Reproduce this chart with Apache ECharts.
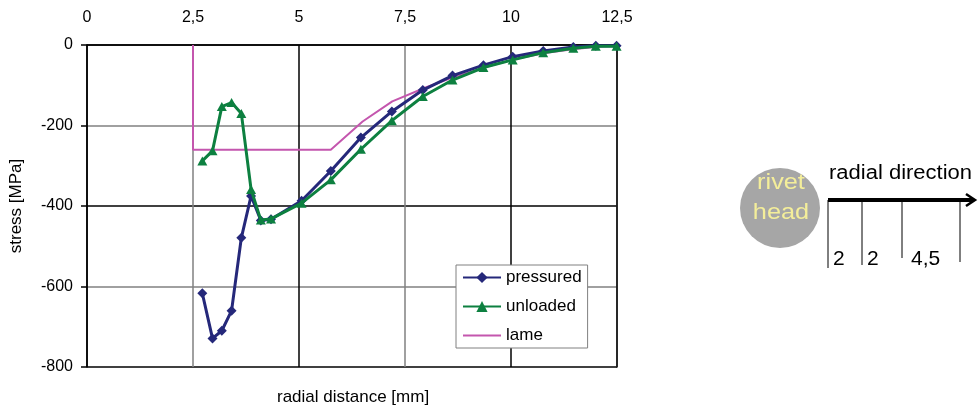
<!DOCTYPE html>
<html>
<head>
<meta charset="utf-8">
<script src="https://cdn.jsdelivr.net/npm/echarts@6/dist/echarts.min.js"></script>
<style>
  html, body { margin: 0; padding: 0; background: #fff; }
  #main { width: 979px; height: 414px; }
</style>
</head>
<body>
<div id="main"></div>
<script>
// radial positions of the measured points [mm]
var radialX = [2.72, 2.96, 3.18, 3.41, 3.64, 3.87, 4.10, 4.34, 5.06, 5.75, 6.46, 7.19, 7.92, 8.62, 9.35, 10.04, 10.76, 11.47, 12.0, 12.49];
var pressured = [-617, -729, -710, -660, -479, -375, -436, -433, -387, -313, -230, -165, -112, -76, -50, -29, -15, -5, -2, -2];
var unloaded = [-288, -263, -153, -143, -170, -359, -435, -432, -393, -335, -259, -188, -128, -87, -56, -37, -19, -8, -3, -3];

// lame solution
var lameX = [2.5, 2.5, 5.75, 6.5, 7.2, 8.0, 8.7, 9.4, 10.1, 10.8, 11.5, 12.1, 12.5];
var lame = [0, -260, -260, -190, -140, -105, -78, -55, -35, -20, -10, -4, -2];

var xTicks = [0, 2.5, 5, 7.5, 10, 12.5];
var yTicks = [-800, -600, -400, -200, 0];

function pairs(xs, ys) {
  return xs.map(function (x, i) { return [x, ys[i]]; });
}

var font = 'Liberation Sans, Arial, sans-serif';
var chart = echarts.init(document.getElementById('main'));

// plain line icon for the lame entry (bbox kept at 38x14)
var lineIcon = 'path://M0,0h0.01v0.01h-0.01z M0,6h38v2h-38z M37.99,13.99h0.01v0.01h-0.01z';

var option = {
  animation: false,
  grid: { left: 87, right: 362, top: 45, bottom: 47 },
  legend: {
    orient: 'vertical',
    left: 456,
    top: 265,
    padding: [4, 6, 4, 6],
    itemWidth: 38,
    itemHeight: 14,
    itemGap: 12,
    backgroundColor: '#fff',
    borderColor: '#808080',
    borderWidth: 1,
    textStyle: { fontFamily: font, fontSize: 17, color: '#000' },
    data: ['pressured', 'unloaded', { name: 'lame', icon: lineIcon }]
  },
  xAxis: [{
    type: 'value',
    position: 'top',
    min: 0,
    max: 12.5,
    interval: 2.5,
    axisLine: { show: true, lineStyle: { color: '#000', width: 1.5 } },
    axisTick: { show: false },
    axisLabel: {
      margin: 19,
      fontFamily: font, fontSize: 16, color: '#000',
      formatter: function (v) { return String(v).replace('.', ','); }
    },
    splitLine: { show: true, lineStyle: { color: ['#000', '#808080'], width: 1.5 } }
  }],
  yAxis: [{
    type: 'value',
    min: -800,
    max: 0,
    interval: 200,
    axisLine: { show: true, onZero: false, lineStyle: { color: '#000', width: 1.5 } },
    axisTick: { show: true, length: 6, lineStyle: { color: '#000', width: 1.5 } },
    axisLabel: { margin: 14, fontFamily: font, fontSize: 16, color: '#000' },
    splitLine: { show: true, lineStyle: { color: ['#000', '#808080', '#000', '#808080', '#000'], width: 1.5 } },
    name: 'stress [MPa]',
    nameLocation: 'middle',
    nameGap: 62,
    nameTextStyle: { fontFamily: font, fontSize: 17, color: '#000' }
  }, {
    type: 'value',
    position: 'right',
    min: -800,
    max: 0,
    interval: 200,
    axisLine: { show: true, onZero: false, lineStyle: { color: '#000', width: 1.5 } },
    axisTick: { show: false },
    axisLabel: { show: false },
    splitLine: { show: false }
  }],
  series: [{
    name: 'lame',
    type: 'line',
    data: pairs(lameX, lame),
    showSymbol: false,
    symbol: 'none',
    z: 2,
    lineStyle: { color: '#c456ae', width: 2 },
    itemStyle: { color: '#c456ae' }
  }, {
    name: 'pressured',
    type: 'line',
    data: pairs(radialX, pressured),
    symbol: 'diamond',
    symbolSize: [10, 10],
    z: 3,
    lineStyle: { color: '#25287a', width: 3 },
    itemStyle: { color: '#25287a' }
  }, {
    name: 'unloaded',
    type: 'line',
    data: pairs(radialX, unloaded),
    symbol: 'triangle',
    symbolSize: [10, 9],
    z: 4,
    lineStyle: { color: '#0d8040', width: 3 },
    itemStyle: { color: '#0d8040' }
  }],
  graphic: [
    { type: 'text', left: 277, top: 389,
      style: { text: 'radial distance [mm]', fontFamily: font, fontSize: 17, fill: '#000' } },
    // rivet sketch
    { type: 'circle', shape: { cx: 780, cy: 208, r: 40 }, style: { fill: '#a6a6a6' } },
    { type: 'text', x: 781, y: 183, scaleX: 1.15,
      style: { text: 'rivet', fontFamily: font, fontSize: 22, fill: '#f4ee9a', align: 'center', verticalAlign: 'middle' } },
    { type: 'text', x: 781, y: 213, scaleX: 1.15,
      style: { text: 'head', fontFamily: font, fontSize: 22, fill: '#f4ee9a', align: 'center', verticalAlign: 'middle' } },
    { type: 'text', x: 829, y: 173, scaleX: 1.1,
      style: { text: 'radial direction', fontFamily: font, fontSize: 20, fill: '#000', verticalAlign: 'middle' } },
    { type: 'line', shape: { x1: 828, y1: 200, x2: 974, y2: 200 }, style: { stroke: '#000', lineWidth: 4 } },
    { type: 'polyline', shape: { points: [[966, 194], [975, 200], [966, 206]] }, style: { stroke: '#000', lineWidth: 2.5, fill: null } },
    { type: 'line', shape: { x1: 828, y1: 200, x2: 828, y2: 268 }, style: { stroke: '#000', lineWidth: 1 } },
    { type: 'line', shape: { x1: 862, y1: 200, x2: 862, y2: 265 }, style: { stroke: '#000', lineWidth: 1 } },
    { type: 'line', shape: { x1: 902, y1: 200, x2: 902, y2: 258 }, style: { stroke: '#000', lineWidth: 1 } },
    { type: 'line', shape: { x1: 960, y1: 200, x2: 960, y2: 262 }, style: { stroke: '#000', lineWidth: 1 } },
    { type: 'text', x: 833, y: 259,
      style: { text: '2', fontFamily: font, fontSize: 21, fill: '#000', verticalAlign: 'middle' } },
    { type: 'text', x: 867, y: 259,
      style: { text: '2', fontFamily: font, fontSize: 21, fill: '#000', verticalAlign: 'middle' } },
    { type: 'text', x: 911, y: 259,
      style: { text: '4,5', fontFamily: font, fontSize: 21, fill: '#000', verticalAlign: 'middle' } }
  ]
};

chart.setOption(option);
</script>
</body>
</html>
